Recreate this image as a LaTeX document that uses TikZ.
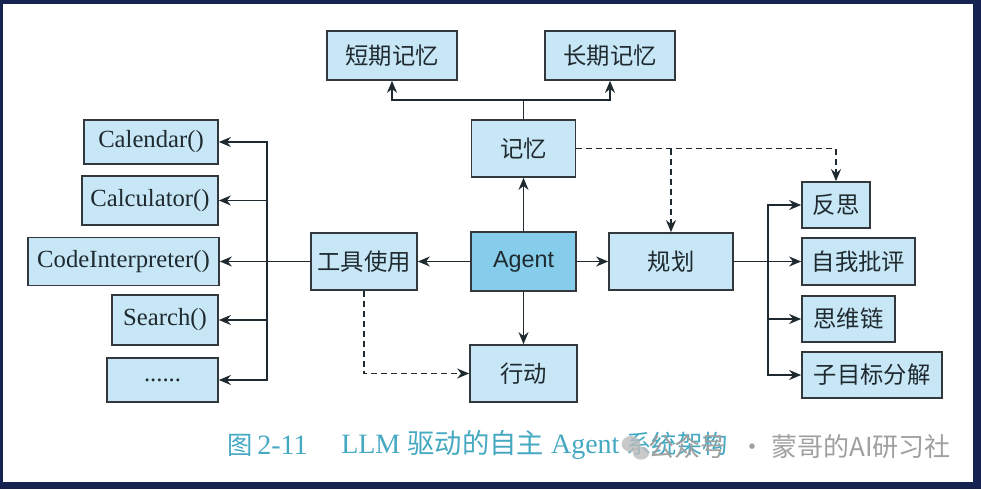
\documentclass[tikz,border=0pt]{standalone}
\usepackage{fontspec}
\setmainfont{Liberation Serif}
\newfontfamily\cjk{Noto Sans CJK SC}
\newfontfamily\helv{Liberation Sans}
\usetikzlibrary{arrows.meta}

\definecolor{moldura}{HTML}{14234F}
\definecolor{azulclaro}{HTML}{C8E7F6}
\definecolor{azulagente}{HTML}{86CDEC}
\definecolor{contorno}{HTML}{33383D}
\definecolor{texto}{HTML}{1F2A30}
\definecolor{corlegenda}{HTML}{45A9C2}
\definecolor{cormarca}{HTML}{A0A0A0}

\begin{document}
\begin{tikzpicture}[x=0.75pt, y=-0.75pt,
        tam/.style 2 args={minimum width=#1*0.75pt, minimum height=#2*0.75pt},
        caixa/.style={draw=contorno, line width=1.3pt, fill=azulclaro, text=texto,
            inner sep=0pt, font=\cjk\fontsize{17.5}{20}\selectfont},
        funcao/.style={caixa, font=\fontsize{18.5}{20}\selectfont},
        linha/.style={line width=1.1pt, draw=texto},
        seta/.style={linha, -{Stealth[length=9pt, width=7.5pt]}},
        tracejada/.style={seta, dash pattern=on 4.5pt off 3pt},
        legenda/.style={text=corlegenda, inner sep=0pt, font=\fontsize{21}{24}\selectfont},
        marca/.style={text=cormarca, inner sep=0pt, font=\cjk\fontsize{19.5}{22}\selectfont}
    ]
        % Moldura
        \fill[moldura] (0,0) rectangle (981,489);
        \fill[white] (3,4) rectangle (973,482);

        % Memoria
        \node[caixa, tam={130}{49}] (curto) at (392,55.5) {短期记忆};
        \node[caixa, tam={130}{49}] (longo) at (610,55.5) {长期记忆};
        \node[caixa, tam={104}{57}] (memoria) at (523.5,148.5) {记忆};

        % Linha central
        \node[caixa, fill=azulagente, font=\helv\fontsize{17.5}{20}\selectfont, tam={105}{59}]
            (agente) at (523.5,261.5) {Agent};
        \node[caixa, tam={106}{57}] (ferramentas) at (364,261.5) {工具使用};
        \node[caixa, tam={124}{57}] (planejamento) at (671,261.5) {规划};
        \node[caixa, tam={107}{57}] (acao) at (523.5,373.5) {行动};

        % Ferramentas
        \node[funcao, tam={134}{44}] (calendario) at (151,142) {Calendar()};
        \node[funcao, tam={136}{49}] (calculadora) at (150,200.5) {Calculator()};
        \node[funcao, tam={191}{48}] (codigo) at (123.5,261.5) {CodeInterpreter()};
        \node[funcao, tam={106}{50}] (busca) at (165,320) {Search()};
        \node[funcao, tam={111}{44}] (outros) at (162.5,380) {......};

        % Planejamento
        \node[caixa, tam={68}{46}] (reflexao) at (836,205) {反思};
        \node[caixa, tam={113}{47}] (critica) at (858.5,261.5) {自我批评};
        \node[caixa, tam={93}{46}] (cadeia) at (848.5,319) {思维链};
        \node[caixa, tam={140}{46}] (subobj) at (872,375) {子目标分解};

        % Ligacoes
        \coordinate (bifurca) at (523.5,100);
        \draw[linha] (memoria.north) -- (bifurca);
        \draw[seta] (bifurca) -| (curto.south);
        \draw[seta] (bifurca) -| (longo.south);

        \draw[seta] (agente.north) -- (memoria.south);
        \draw[seta] (agente.south) -- (acao.north);
        \draw[seta] (agente.west) -- (ferramentas.east);
        \draw[seta] (agente.east) -- (planejamento.west);

        \coordinate (eixoesq) at (267,261.5);
        \draw[linha] (ferramentas.west) -- (eixoesq);
        \foreach \f in {calendario, calculadora, codigo, busca, outros}
            \draw[seta] (eixoesq) |- (\f.east);

        \coordinate (eixodir) at (768,261.5);
        \draw[linha] (planejamento.east) -- (eixodir);
        \foreach \p in {reflexao, critica, cadeia, subobj}
            \draw[seta] (eixodir) |- (\p.west);

        \draw[tracejada] (memoria.east) -| (reflexao.north);
        \draw[tracejada] (memoria.east -| planejamento.north) -- (planejamento.north);
        \draw[tracejada] (ferramentas.south) |- (acao.west);

        % Legenda
        \node[legenda, anchor=west] (figura) at (227,445) {{\cjk\fontsize{19}{22}\selectfont 图}\,2-11};
        \node[legenda, anchor=west] (titulo) at (341,445)
            {LLM {\cjk\fontsize{20.5}{22}\selectfont 驱动的自主} Agent {\cjk\fontsize{19}{22}\selectfont 系统架构}};

        % Marca
        \fill[cormarca!70, opacity=.8] (631,444) ellipse (7pt and 6pt);
        \fill[cormarca!70, opacity=.8] (641,453) ellipse (6pt and 5pt);
        \node[marca, anchor=west] (conta) at (648,447) {公众号};
        \node[marca, anchor=east] (autor) at (951,447) {· 蒙哥的AI研习社};
    \end{tikzpicture}
\end{document}
